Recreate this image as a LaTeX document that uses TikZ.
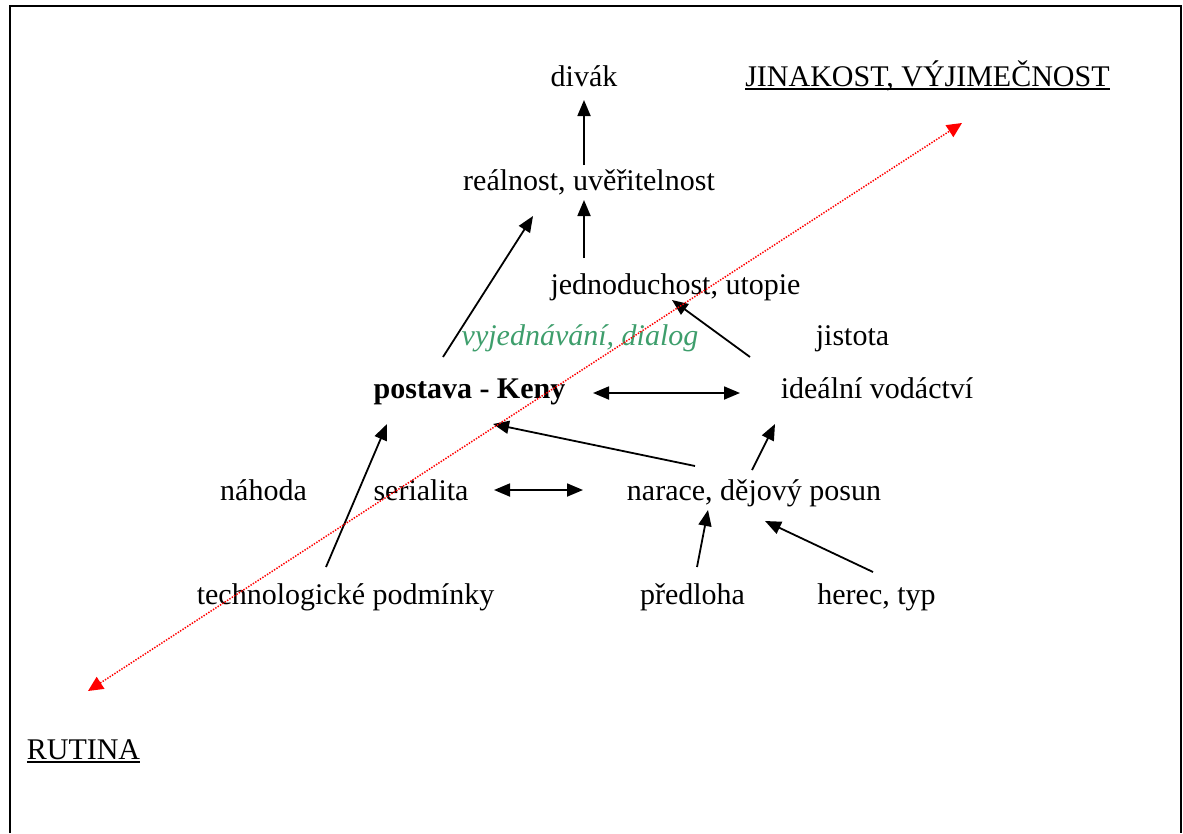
\documentclass[tikz,border=0pt]{standalone}
\usepackage{fontspec}
\setmainfont{Liberation Serif}
\usepackage{xcolor}
\usetikzlibrary{arrows.meta}
\definecolor{dgGreen}{RGB}{62,158,108}
\newcommand{\dgUnder}[1]{\setbox0\hbox{#1}\rlap{\rule[-3.5pt]{\wd0}{1.8pt}}\box0}

\begin{document}
\begin{tikzpicture}[x=1pt,y=-1pt,
  every node/.style={anchor=base, inner sep=0pt, font={\fontsize{30}{36}\selectfont}},
  dgArrow/.style={-{Triangle[length=16pt,width=13pt]}, line width=1.8pt},
  dgBoth/.style={{Triangle[length=16pt,width=13pt]}-{Triangle[length=16pt,width=13pt]}, line width=1.8pt},
  dgAxis/.style={{Triangle[length=15pt,width=14pt]}-{Triangle[length=15pt,width=14pt]}, red, line width=1.5pt, dash pattern=on 1.4pt off 1.4pt}]
\useasboundingbox (0,0) rectangle (1183,833);
\draw[line width=2pt] (10,833) -- (10,6) -- (1181,6) -- (1181,833);
\node (divak) at (584,86) {divák};
\node (jinakost) at (927.5,86) {\dgUnder{JINAKOST, VÝJIMEČNOST}};
\node (realnost) at (589,190) {reálnost, uvěřitelnost};
\node (jednoduchost) at (675.5,294) {jednoduchost, utopie};
\node[text=dgGreen, font={\fontsize{30}{36}\selectfont\itshape}] (dialog) at (580,345) {vyjednávání, dialog};
\node (jistota) at (852.5,345) {jistota};
\node[font={\fontsize{30}{36}\selectfont\bfseries}] (postava) at (469.5,398) {postava - Keny};
\node (vodactvi) at (877,398) {ideální vodáctví};
\node (nahoda) at (263.5,500) {náhoda};
\node (serialita) at (421,500) {serialita};
\node (narace) at (754,500) {narace, dějový posun};
\node (podminky) at (345.5,604) {technologické podmínky};
\node (predloha) at (692.5,604) {předloha};
\node (herec) at (876.5,604) {herec, typ};
\node (rutina) at (83.5,759) {\dgUnder{RUTINA}};
\draw[dgArrow] ([shift={(-5,-25)}]realnost.base) -- ([shift={(0,14)}]divak.base);
\draw[dgArrow] ([shift={(-91.5,-36)}]jednoduchost.base) -- ([shift={(-5,10)}]realnost.base);
\draw[dgArrow] ([shift={(-26.5,-41)}]postava.base) -- ([shift={(-56,26)}]realnost.base);
\draw[dgArrow] ([shift={(-127,-41)}]vodactvi.base) -- ([shift={(-3.5,6)}]jednoduchost.base);
\draw[dgBoth] ([shift={(123.5,-5)}]postava.base) -- ([shift={(-137,-5)}]vodactvi.base);
\draw[dgArrow] ([shift={(-59,-34)}]narace.base) -- ([shift={(23.5,26)}]postava.base);
\draw[dgArrow] ([shift={(-2,-30)}]narace.base) -- ([shift={(-102,26)}]vodactvi.base);
\draw[dgBoth] ([shift={(73,-10)}]serialita.base) -- ([shift={(-171,-10)}]narace.base);
\draw[dgArrow] ([shift={(-19.5,-37)}]podminky.base) -- ([shift={(-82.5,26)}]postava.base);
\draw[dgArrow] ([shift={(4.5,-37)}]predloha.base) -- ([shift={(-46,10)}]narace.base);
\draw[dgArrow] ([shift={(-3.5,-32)}]herec.base) -- ([shift={(11,21)}]narace.base);
\draw[dgAxis] ([shift={(4.5,-68)}]rutina.base) -- ([shift={(34.5,37)}]jinakost.base);
\end{tikzpicture}
\end{document}
